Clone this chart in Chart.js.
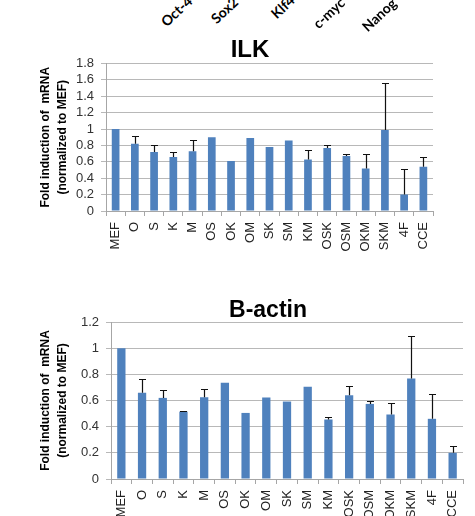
<!DOCTYPE html>
<html>
<head>
<meta charset="utf-8">
<script src="https://cdn.jsdelivr.net/npm/chart.js@4.4.1/dist/chart.umd.min.js"></script>
<style>
  html, body { margin: 0; padding: 0; background: #fff; overflow: hidden; }
  #wrap { position: relative; width: 475px; height: 516px; }
  canvas { position: absolute; left: 0; }
  .hdr {
    position: absolute; white-space: nowrap;
    font: bold 14px Lato, sans-serif; line-height: 14px; color: #000;
    transform-origin: 0 100%; transform: rotate(-43deg);
  }
</style>
</head>
<body>
<div id="wrap">
  <canvas id="ilkChart" style="top:30px" width="475" height="232"></canvas>
  <canvas id="actinChart" style="top:285px" width="475" height="231"></canvas>
</div>
<script>
// data
const groups = ['MEF', 'O', 'S', 'K', 'M', 'OS', 'OK', 'OM', 'SK', 'SM', 'KM', 'OSK', 'OSM', 'OKM', 'SKM', '4F', 'CCE'];

const ilkValues = [1.00, 0.82, 0.72, 0.66, 0.73, 0.90, 0.61, 0.89, 0.78, 0.86, 0.63, 0.77, 0.67, 0.52, 0.99, 0.20, 0.54];
const ilkErr    = [0, 0.09, 0.08, 0.06, 0.14, 0, 0, 0, 0, 0, 0.12, 0.03, 0.03, 0.17, 0.57, 0.31, 0.12];

const actinValues = [1.00, 0.66, 0.62, 0.515, 0.625, 0.735, 0.505, 0.623, 0.592, 0.705, 0.455, 0.64, 0.574, 0.493, 0.768, 0.46, 0.20];
const actinErr    = [0, 0.106, 0.057, 0.005, 0.06, 0, 0, 0, 0, 0, 0.02, 0.072, 0.026, 0.087, 0.322, 0.19, 0.05];

const ilkTicks = [0, 0.2, 0.4, 0.6, 0.8, 1, 1.2, 1.4, 1.6, 1.8];
const actinTicks = [0, 0.2, 0.4, 0.6, 0.8, 1, 1.2];

const yTitle = ['Fold induction of  mRNA', '(normalized to MEF)'];
const headerLabels = ['Oct-4', 'Sox2', 'Klf4', 'c-myc', 'Nanog'];

// where the rotated header words start (top-left of box before rotating)
const headerPos = [[168, 15], [218, 12], [278, 7], [320, 17], [369, 20]];

headerLabels.forEach((t, i) => {
  const d = document.createElement('div');
  d.className = 'hdr';
  d.textContent = t;
  d.style.left = headerPos[i][0] + 'px';
  d.style.top = headerPos[i][1] + 'px';
  document.getElementById('wrap').appendChild(d);
});

// upper error bars only, with a small cap
const errorBars = {
  id: 'errorBars',
  afterDatasetsDraw(chart) {
    const ctx = chart.ctx;
    const y = chart.scales.y;
    const ds = chart.data.datasets[0];
    const meta = chart.getDatasetMeta(0);
    ctx.save();
    ctx.strokeStyle = '#111';
    ctx.lineWidth = 1.2;
    meta.data.forEach((bar, i) => {
      const e = ds.errUp[i];
      if (!e) return;
      const x = Math.round(bar.x) + 0.5;
      const top = Math.round(y.getPixelForValue(ds.data[i] + e)) + 0.5;
      ctx.beginPath();
      ctx.moveTo(x, bar.y);
      ctx.lineTo(x, top);
      ctx.moveTo(x - 3.5, top);
      ctx.lineTo(x + 3.5, top);
      ctx.stroke();
    });
    ctx.restore();
  }
};

// big chart title placed by hand (centre x, baseline y)
const bigTitle = {
  id: 'bigTitle',
  afterDraw(chart, args, opts) {
    const ctx = chart.ctx;
    ctx.save();
    ctx.font = 'bold ' + opts.size + 'px "Liberation Sans", Arial, sans-serif';
    ctx.fillStyle = '#000';
    ctx.textAlign = 'center';
    ctx.textBaseline = 'alphabetic';
    ctx.fillText(opts.text, opts.x, opts.y);
    ctx.restore();
  }
};

const padLeft = 38;

function makeChart(id, values, errs, ticks, area, title) {
  const canvas = document.getElementById(id);
  const yMax = ticks[ticks.length - 1];
  return new Chart(canvas, {
    type: 'bar',
    data: {
      labels: groups,
      datasets: [{
        data: values,
        errUp: errs,
        backgroundColor: '#4F81BD',
        barPercentage: 0.5,
        categoryPercentage: 0.8
      }]
    },
    options: {
      responsive: false,
      animation: false,
      events: [],
      layout: {
        padding: { left: padLeft, right: canvas.width - area.right, top: area.top, bottom: 0 }
      },
      plugins: {
        legend: { display: false },
        tooltip: { enabled: false },
        bigTitle: title
      },
      scales: {
        x: {
          afterFit: s => { s.height = canvas.height - area.bottom; },
          grid: { drawOnChartArea: false, offset: true, tickLength: 5, color: '#a6a6a6' },
          border: { color: '#a6a6a6' },
          ticks: {
            autoSkip: false, minRotation: 90, maxRotation: 90, padding: 6,
            color: '#222', font: { family: '"Liberation Sans", Arial', size: 13 }
          }
        },
        y: {
          min: 0, max: yMax,
          afterFit: s => { s.width = area.left - padLeft; },
          afterBuildTicks: s => { s.ticks = ticks.map(v => ({ value: v })); },
          grid: { color: '#b8b8b8', tickLength: 5 },
          border: { color: '#a6a6a6' },
          ticks: {
            autoSkip: false, padding: 7, color: '#333',
            font: { family: '"Liberation Sans", Arial', size: 13 },
            callback: v => String(+v.toFixed(1))
          },
          title: {
            display: true, text: yTitle, color: '#000',
            font: { family: '"Liberation Sans", Arial', size: 12, weight: 'bold', lineHeight: 1.35 },
            padding: { top: 0, bottom: 0 }
          }
        }
      }
    },
    plugins: [errorBars, bigTitle]
  });
}

makeChart('ilkChart', ilkValues, ilkErr, ilkTicks,
  { left: 106, right: 433, top: 33.5, bottom: 181 },
  { text: 'ILK', x: 250, y: 27, size: 24 });

makeChart('actinChart', actinValues, actinErr, actinTicks,
  { left: 111, right: 463, top: 37, bottom: 194 },
  { text: 'B-actin', x: 268, y: 32, size: 23 });
</script>
</body>
</html>
